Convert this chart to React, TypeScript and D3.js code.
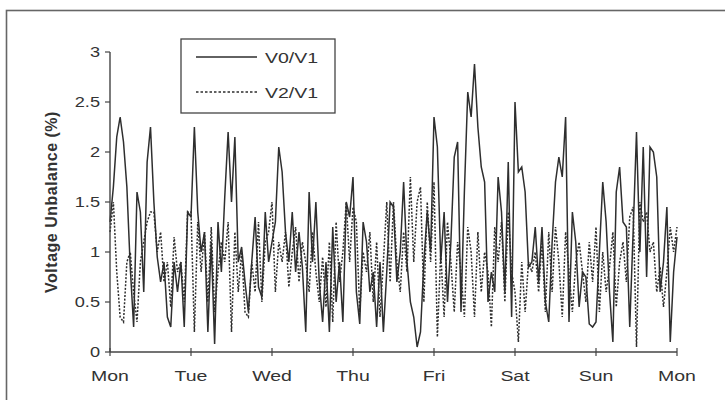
import React from "react";
import * as d3 from "d3";

// hourly readings, Mon 00:00 .. next Mon 00:00 (169 points)
const v0v1: number[] = [
  // Mon
  1.3, 1.65, 2.15, 2.35, 2.1, 1.65, 0.85, 0.25, 1.6, 1.4, 0.6, 1.9, 2.25, 1.5, 0.95, 0.7, 0.9, 0.35, 0.25, 0.9, 0.6, 0.9, 0.25, 1.4,
  // Tue
  1.35, 2.25, 1.4, 1.0, 1.2, 0.2, 1.1, 0.08, 1.3, 0.8, 1.55, 2.2, 1.5, 2.15, 0.9, 1.05, 0.7, 0.4, 0.9, 1.35, 0.65, 0.55, 1.4, 0.9,
  // Wed
  1.1, 1.3, 2.05, 1.8, 1.2, 0.9, 1.4, 0.8, 1.2, 0.85, 0.2, 1.6, 0.9, 1.5, 0.7, 0.3, 0.9, 0.2, 1.25, 0.5, 0.9, 0.3, 1.5, 1.35,
  // Thu
  1.75, 0.6, 0.28, 1.3, 1.1, 0.6, 0.8, 0.25, 0.9, 0.2, 0.8, 1.5, 1.45, 0.7, 1.0, 1.7, 0.9, 0.5, 0.35, 0.05, 0.2, 0.9, 1.4, 1.0,
  // Fri
  2.35, 2.05, 0.9, 1.4, 0.5, 1.1, 1.95, 2.1, 0.4, 1.6, 2.6, 2.35, 2.88, 2.25, 1.85, 1.7, 0.5, 0.8, 0.6, 1.75, 1.4, 0.6, 1.9, 0.35,
  // Sat
  2.5, 1.8, 1.85, 1.6, 0.85, 0.9, 1.25, 0.7, 1.25, 0.5, 0.3, 1.1, 1.7, 1.95, 1.75, 2.35, 0.3, 1.4, 1.1, 0.45, 0.8, 0.75, 0.28, 0.25,
  // Sun
  0.3, 1.0, 1.7, 1.3, 0.6, 0.1, 1.6, 1.85, 1.3, 1.25, 0.25, 1.2, 2.2, 1.0, 2.05, 0.75, 2.05, 2.0, 1.75, 0.6, 0.9, 1.45, 0.1, 0.8,
  // Mon
  1.15,
];

const v2v1: number[] = [
  // Mon
  1.2, 1.5, 0.8, 0.35, 0.3, 0.9, 1.0, 0.6, 0.3, 0.9, 1.1, 1.3, 1.4, 1.4, 1.0, 1.2, 0.7, 0.9, 0.45, 1.15, 0.8, 0.9, 0.5, 1.4,
  // Tue
  1.4, 0.2, 1.3, 0.8, 1.2, 0.5, 1.25, 0.4, 0.8, 1.1, 0.9, 1.3, 0.2, 1.2, 0.6, 1.0, 0.4, 0.35, 0.9, 0.6, 1.3, 0.5, 1.1, 1.2,
  // Wed
  1.5, 0.6, 1.1, 0.9, 1.2, 0.65, 1.0, 1.25, 0.7, 1.1, 0.9, 0.6, 1.2, 0.8, 0.5, 0.95, 0.45, 1.1, 0.3, 1.3, 0.7, 1.0, 1.5, 0.9,
  // Thu
  1.45, 1.3, 0.4, 1.0, 0.8, 1.2, 0.5, 1.1, 0.35, 0.9, 1.5, 0.7, 1.5, 0.9, 0.6, 1.2, 0.8, 1.75, 0.9, 1.5, 1.65, 0.5, 1.5, 0.9,
  // Fri
  1.7, 0.15, 1.0, 0.35, 1.3, 0.9, 0.4, 1.1, 0.8, 0.35, 1.25, 1.0, 0.35, 1.2, 0.6, 1.0, 0.8, 0.25, 1.25, 0.9, 1.3, 0.5, 1.4, 0.8,
  // Sat
  0.6, 0.1, 0.9, 0.4, 0.9, 0.8, 1.0, 0.6, 1.1, 0.4, 1.2, 0.6, 1.25, 0.9, 0.35, 1.2, 0.8, 0.4, 0.9, 1.1, 0.8, 0.5, 1.1, 0.7,
  // Sun
  1.25, 0.4, 1.0, 0.6, 0.85, 1.2, 0.45, 0.9, 1.1, 0.7, 1.35, 1.45, 0.05, 1.5, 1.3, 1.4, 1.0, 1.1, 0.6, 0.85, 0.45, 0.8, 1.25, 1.0,
  // Mon
  1.25,
];

const days = ["Mon", "Tue", "Wed", "Thu", "Fri", "Sat", "Sun", "Mon"];
const yTicks = [0, 0.5, 1, 1.5, 2, 2.5, 3];
const seriesNames = ["V0/V1", "V2/V1"];

const W = 725;
const H = 400;
const ink = "#333";
const font = "'Liberation Sans', Arial, sans-serif";

// scanned glyphs come out wide, so stretch text horizontally
function Wide({ x, y, anchor, size, children }: any) {
  return (
    <g transform={`translate(${x},${y}) scale(1.3,1)`}>
      <text textAnchor={anchor} fontSize={size} fontFamily={font} fill={ink}>
        {children}
      </text>
    </g>
  );
}

export default function App() {
  const x = d3.scaleLinear().domain([0, 168]).range([110, 677]);
  const y = d3.scaleLinear().domain([0, 3]).range([352, 52]);
  const line = d3
    .line<number>()
    .x((_, i) => x(i))
    .y((d) => y(d));

  return (
    <svg
      width={W}
      height={H}
      style={{ position: "absolute", left: 0, top: 0, background: "#fff" }}
    >
      {/* outer frame, cut by the picture on right and bottom */}
      <rect x={6.5} y={10.5} width={760} height={420} fill="none" stroke="#666" strokeWidth={1.6} />

      {/* series */}
      <path d={line(v2v1) || ""} fill="none" stroke="#2e2e2e" strokeWidth={1.5} strokeDasharray="2,1.6" />
      <path d={line(v0v1) || ""} fill="none" stroke="#2e2e2e" strokeWidth={1.5} />

      {/* y axis */}
      <line x1={110} x2={110} y1={y(3)} y2={y(0)} stroke="#444" strokeWidth={1.4} />
      {yTicks.map((t) => (
        <g key={t}>
          <line x1={105} x2={110} y1={y(t)} y2={y(t)} stroke="#444" strokeWidth={1.2} />
          <Wide x={100} y={y(t) + 5} anchor="end" size={14}>
            {String(t)}
          </Wide>
        </g>
      ))}

      {/* x axis */}
      <line x1={x(0)} x2={x(168)} y1={352} y2={352} stroke="#444" strokeWidth={1.4} />
      {days.map((d, i) => (
        <g key={i}>
          <line x1={x(i * 24)} x2={x(i * 24)} y1={348} y2={356} stroke="#444" strokeWidth={1.2} />
          <Wide x={x(i * 24)} y={381} anchor="middle" size={15}>
            {d}
          </Wide>
        </g>
      ))}

      {/* axis title */}
      <text
        transform="translate(57,202) rotate(-90)"
        textAnchor="middle"
        fontSize={16}
        fontWeight="bold"
        letterSpacing={0.5}
        fontFamily={font}
        fill={ink}
      >
        Voltage Unbalance (%)
      </text>

      {/* legend */}
      <rect x={181} y={39} width={154} height={74} fill="#fff" stroke="#444" strokeWidth={1.3} />
      <line x1={196} x2={257} y1={57} y2={57} stroke="#2e2e2e" strokeWidth={1.4} />
      <Wide x={265} y={62.5} anchor="start" size={15}>
        {seriesNames[0]}
      </Wide>
      <line x1={196} x2={257} y1={92} y2={92} stroke="#2e2e2e" strokeWidth={1.4} strokeDasharray="2.5,2" />
      <Wide x={265} y={97.5} anchor="start" size={15}>
        {seriesNames[1]}
      </Wide>
    </svg>
  );
}
